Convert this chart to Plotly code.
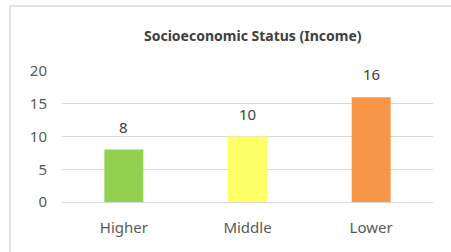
import plotly.graph_objects as go

categories = ["Higher", "Middle", "Lower"]
values = [8, 10, 16]
colors = ["#92D050", "#FFFF66", "#F79646"]
y_ticks = [0, 5, 10, 15, 20]
title_text = "Socioeconomic Status (Income)"

FONT = "Noto Sans"

fig = go.Figure(
    go.Bar(
        x=categories,
        y=values,
        marker=dict(color=colors, line=dict(width=0)),
        width=0.315,
        hoverinfo="skip",
    )
)

L, R, T, B = 62, 18, 71, 50
W, H = 451, 252
pw, ph = W - L - R, H - T - B

annotations = []
for c, v in zip(categories, values):
    annotations.append(
        dict(
            x=c, y=v, xref="x", yref="y", text=str(v), showarrow=False,
            yanchor="bottom", yshift=11,
            font=dict(family=FONT, size=15, color="#404040"),
        )
    )
annotations.append(
    dict(
        x=(253 - L) / pw, y=(H - B - 35) / ph, xref="paper", yref="paper",
        text="<b>" + title_text + "</b>",
        showarrow=False, xanchor="center", yanchor="middle",
        font=dict(family=FONT, size=14, color="#404040"),
    )
)

fx0 = (10 - L) / pw
fy_top = (H - B - 6) / ph

fig.update_layout(
    width=W, height=H,
    margin=dict(l=L, r=R, t=T, b=B),
    paper_bgcolor="white", plot_bgcolor="white",
    showlegend=False,
    annotations=annotations,
    shapes=[
        dict(type="line", xref="paper", yref="paper", x0=fx0, x1=fx0, y0=-1, y1=fy_top,
             line=dict(color="#d9d9d9", width=1.5)),
        dict(type="line", xref="paper", yref="paper", x0=fx0, x1=2, y0=fy_top, y1=fy_top,
             line=dict(color="#d9d9d9", width=1.5)),
    ],
    xaxis=dict(
        showgrid=False, showline=True, linecolor="#d9d9d9", linewidth=1,
        ticks="", ticklabelstandoff=12,
        tickfont=dict(family=FONT, size=15, color="#595959"),
        fixedrange=True,
    ),
    yaxis=dict(
        range=[0, 20], tickvals=y_ticks, showgrid=True, gridcolor="#d9d9d9", gridwidth=1,
        zeroline=False, showline=False, ticks="", ticklabelstandoff=14,
        tickfont=dict(family=FONT, size=15, color="#595959"),
        fixedrange=True,
    ),
)

fig.write_html(
    "out.html",
    config={"displayModeBar": False},
    post_script="document.body.style.margin='0';document.body.style.overflow='hidden';",
)
